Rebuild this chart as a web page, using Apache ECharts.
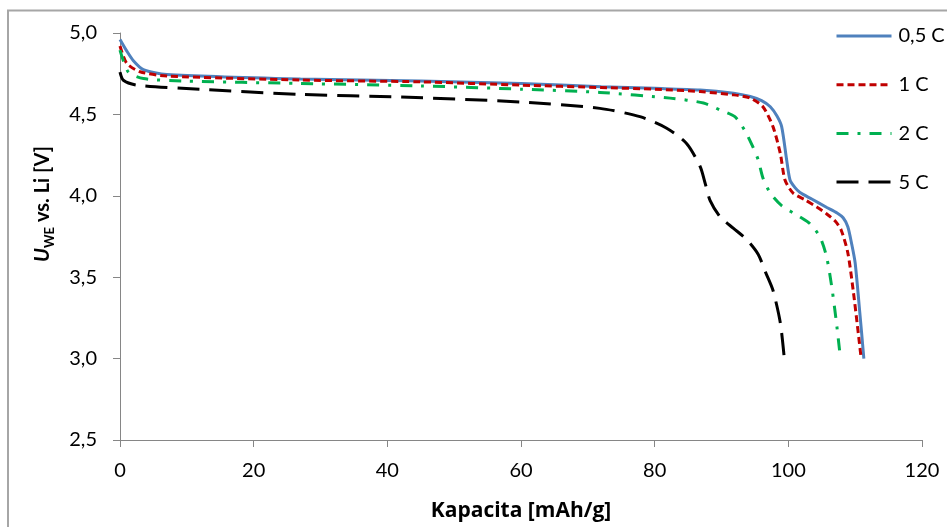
<!DOCTYPE html>
<html>
<head>
<meta charset="utf-8">
<script src="https://cdn.jsdelivr.net/npm/echarts@6/dist/echarts.min.js"></script>
<style>html,body{margin:0;padding:0;background:#fff;}#c{width:947px;height:527px;}</style>
</head>
<body>
<div id="c"></div>
<script>
// Data
var seriesNames = ['0,5 C', '1 C', '2 C', '5 C'];
var xTicks = [0, 20, 40, 60, 80, 100, 120];
var yTicks = [2.5, 3.0, 3.5, 4.0, 4.5, 5.0];

var cap05 = [0, 1, 2, 3.5, 7, 27, 45, 60, 72, 80, 86.8, 91.8, 94.3, 96, 97.3, 98.3, 99.0, 99.75, 100.25, 101, 101.75, 103.5, 105.7, 107.3, 108.2, 108.9, 109.5, 110.0, 110.7, 111.3];
var u05   = [4.96, 4.89, 4.83, 4.775, 4.745, 4.717, 4.705, 4.69, 4.67, 4.66, 4.65, 4.63, 4.61, 4.585, 4.547, 4.49, 4.425, 4.22, 4.097, 4.05, 4.02, 3.98, 3.93, 3.895, 3.865, 3.81, 3.70, 3.587, 3.28, 3.0];

var cap1 = [0, 1, 3, 7, 27, 45, 60, 72, 80, 86.8, 91.8, 94.3, 96.2, 97.7, 98.8, 99.5, 100.7, 102.5, 104.3, 105.7, 107.0, 107.9, 108.9, 109.7, 110.4, 110.9];
var u1   = [4.92, 4.814, 4.762, 4.736, 4.711, 4.70, 4.68, 4.665, 4.655, 4.64, 4.62, 4.60, 4.547, 4.425, 4.26, 4.097, 4.017, 3.975, 3.93, 3.89, 3.845, 3.79, 3.65, 3.42, 3.18, 3.0];

var cap2 = [0, 1.25, 3.5, 9.5, 27, 45, 60, 71.8, 82.3, 87.3, 89.8, 92.0, 93.5, 94.7, 95.5, 96.2, 97.3, 99.0, 101.75, 103.2, 104.7, 105.7, 106.5, 107.2, 107.8];
var u2   = [4.895, 4.76, 4.72, 4.705, 4.69, 4.675, 4.655, 4.635, 4.60, 4.57, 4.527, 4.486, 4.40, 4.30, 4.22, 4.11, 4.017, 3.94, 3.87, 3.83, 3.75, 3.63, 3.44, 3.22, 3.0];

var cap5 = [0, 0.5, 2.5, 12, 27, 42, 60, 71.8, 77.8, 81.8, 84.8, 86.8, 87.6, 88.3, 89.8, 91.8, 93.8, 95.5, 96.6, 97.7, 98.8, 99.4];
var u5   = [4.76, 4.71, 4.68, 4.654, 4.623, 4.607, 4.576, 4.537, 4.486, 4.415, 4.32, 4.18, 4.07, 3.97, 3.87, 3.80, 3.73, 3.64, 3.53, 3.42, 3.22, 3.0];

function zip(a, b) { return a.map(function (v, i) { return [v, b[i]]; }); }

var FONT = 'Lato, "Noto Sans", sans-serif';
var TFONT = '"Open Sans", "Noto Sans", sans-serif';
var axisGray = '#868686';

var chart = echarts.init(document.getElementById('c'), null, {renderer: 'canvas'});

function mk(name, xs, ys, color, dash, w) {
  return {
    name: name, type: 'line', data: zip(xs, ys), symbol: 'none', smooth: 0.25,
    lineStyle: {color: color, width: w, type: dash, cap: 'butt'},
    itemStyle: {color: color},
    emphasis: {disabled: true}, animation: false, z: 3
  };
}

chart.setOption({
  backgroundColor: '#fff',
  animation: false,
  textStyle: {fontFamily: FONT},
  grid: {left: 120, right: 25, top: 33, bottom: 80, containLabel: false},
  legend: {
    orient: 'vertical', left: 835, top: 26, padding: 0,
    itemWidth: 55, itemHeight: 18, itemGap: 28.7,
    itemStyle: {opacity: 0},
    lineStyle: {width: 3},
    textStyle: {fontFamily: FONT, fontSize: 20, color: '#000', lineHeight: 18, padding: [0, 0, 0, 2]},
    data: seriesNames
  },
  xAxis: {
    type: 'value', min: xTicks[0], max: xTicks[xTicks.length - 1], interval: 20,
    name: 'Kapacita [mAh/g]', nameLocation: 'middle', nameGap: 61,
    nameTextStyle: {fontFamily: TFONT, fontSize: 21, fontWeight: 'bold', color: '#000'},
    axisLine: {show: true, onZero: false, lineStyle: {color: axisGray, width: 1}},
    axisTick: {show: true, inside: false, length: 7, lineStyle: {color: axisGray}},
    axisLabel: {fontFamily: FONT, fontSize: 20, color: '#000', margin: 21},
    splitLine: {show: false}
  },
  yAxis: {
    type: 'value', min: yTicks[0], max: yTicks[yTicks.length - 1], interval: 0.5,
    axisLine: {show: true, onZero: false, lineStyle: {color: axisGray, width: 1}},
    axisTick: {show: true, inside: false, length: 7, lineStyle: {color: axisGray}},
    axisLabel: {fontFamily: FONT, fontSize: 20, color: '#000', margin: 23,
      formatter: function (v) { return v.toFixed(1).replace('.', ','); }},
    splitLine: {show: false}
  },
  graphic: [
    {type: 'rect', shape: {x: 8, y: 10.5, width: 1200, height: 1200}, style: {fill: 'none', stroke: '#A6A6A6', lineWidth: 2}, silent: true, z: -1},
    {type: 'text', x: 41, y: 204, rotation: Math.PI / 2, silent: true,
      style: {
        text: '{u|U}{s|WE}{t| vs. Li [V]}',
        align: 'center', verticalAlign: 'middle',
        rich: {
          u: {fontFamily: FONT, fontSize: 20, fontWeight: 'bold', fontStyle: 'italic', fill: '#000', verticalAlign: 'bottom', lineHeight: 24},
          s: {fontFamily: FONT, fontSize: 13, fontWeight: 'bold', fill: '#000', verticalAlign: 'bottom', lineHeight: 24, padding: [0, 0, -3, 0]},
          t: {fontFamily: FONT, fontSize: 20, fontWeight: 'bold', fill: '#000', verticalAlign: 'bottom', lineHeight: 24}
        }
      }
    }
  ],
  series: [
    mk(seriesNames[0], cap05, u05, '#4F81BD', 'solid', 3),
    mk(seriesNames[1], cap1, u1, '#C00000', [7, 4], 3),
    mk(seriesNames[2], cap2, u2, '#00B050', [12, 9, 3, 9], 3),
    mk(seriesNames[3], cap5, u5, '#000000', [22, 10], 3)
  ]
});
</script>
</body>
</html>
